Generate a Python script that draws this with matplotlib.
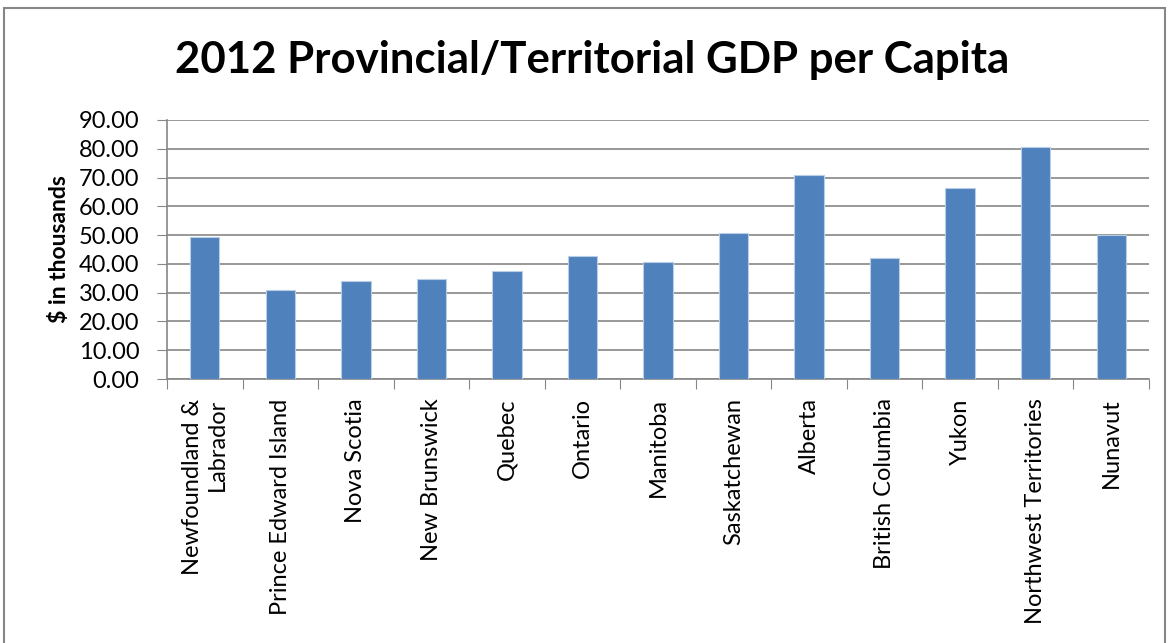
import matplotlib.pyplot as plt
from matplotlib.patches import Rectangle
import numpy as np

provinces = ['Newfoundland &\nLabrador', 'Prince Edward Island', 'Nova Scotia',
             'New Brunswick', 'Quebec', 'Ontario', 'Manitoba', 'Saskatchewan',
             'Alberta', 'British Columbia', 'Yukon', 'Northwest Territories', 'Nunavut']
gdp = [49.2, 31.0, 34.2, 34.9, 37.4, 42.7, 40.5, 50.9, 71.0, 42.1, 66.2, 80.6, 49.9]
yticks = [0, 10, 20, 30, 40, 50, 60, 70, 80, 90]

plt.rcParams['font.family'] = ['Lato', 'DejaVu Sans']

fig = plt.figure(figsize=(11.69, 6.43), dpi=100)
# outer chart frame
fig.patches.append(Rectangle((0.003, -0.01), 0.994, 0.998, transform=fig.transFigure,
                             fill=False, edgecolor='#868686', linewidth=1.5))

ax = fig.add_axes([167/1169, 1-379/643, (1149-167)/1169, (379-120)/643])
x = np.arange(len(provinces))
ax.bar(x, gdp, width=0.39, color='#4F81BD', edgecolor='#B9CDE5', linewidth=0.8, zorder=3)

ax.set_xlim(-0.5, len(provinces)-0.5)
ax.set_ylim(0, 90)
ax.set_yticks(yticks)
ax.set_yticklabels([f'{v:.2f}' for v in yticks], fontsize=17)
ax.yaxis.grid(True, color='#868686', linewidth=1.2, zorder=0)
ax.tick_params(axis='y', length=7, color='#868686', pad=13)

# category ticks sit between bars, labels under each bar
ax.set_xticks(np.arange(-0.5, len(provinces)), minor=False)
ax.set_xticklabels([])
ax.set_xticks(x, minor=True)
ax.set_xticklabels(provinces, minor=True, rotation=90, fontsize=17,
                   va='top', ha='center', multialignment='right')
ax.tick_params(axis='x', which='major', length=7, color='#868686')
ax.tick_params(axis='x', which='minor', length=0, pad=14)

for s in ['top', 'right']:
    ax.spines[s].set_visible(False)
for s in ['left', 'bottom']:
    ax.spines[s].set_color('#868686')
    ax.spines[s].set_linewidth(1.2)

ax.set_ylabel('$ in thousands', fontsize=16.5, fontweight='bold', labelpad=6)
fig.text(592/1169, 1-60/643, '2012 Provincial/Territorial GDP per Capita',
         fontsize=31.5, fontweight='bold', ha='center', va='center')

fig.savefig('out.png', dpi=100)
